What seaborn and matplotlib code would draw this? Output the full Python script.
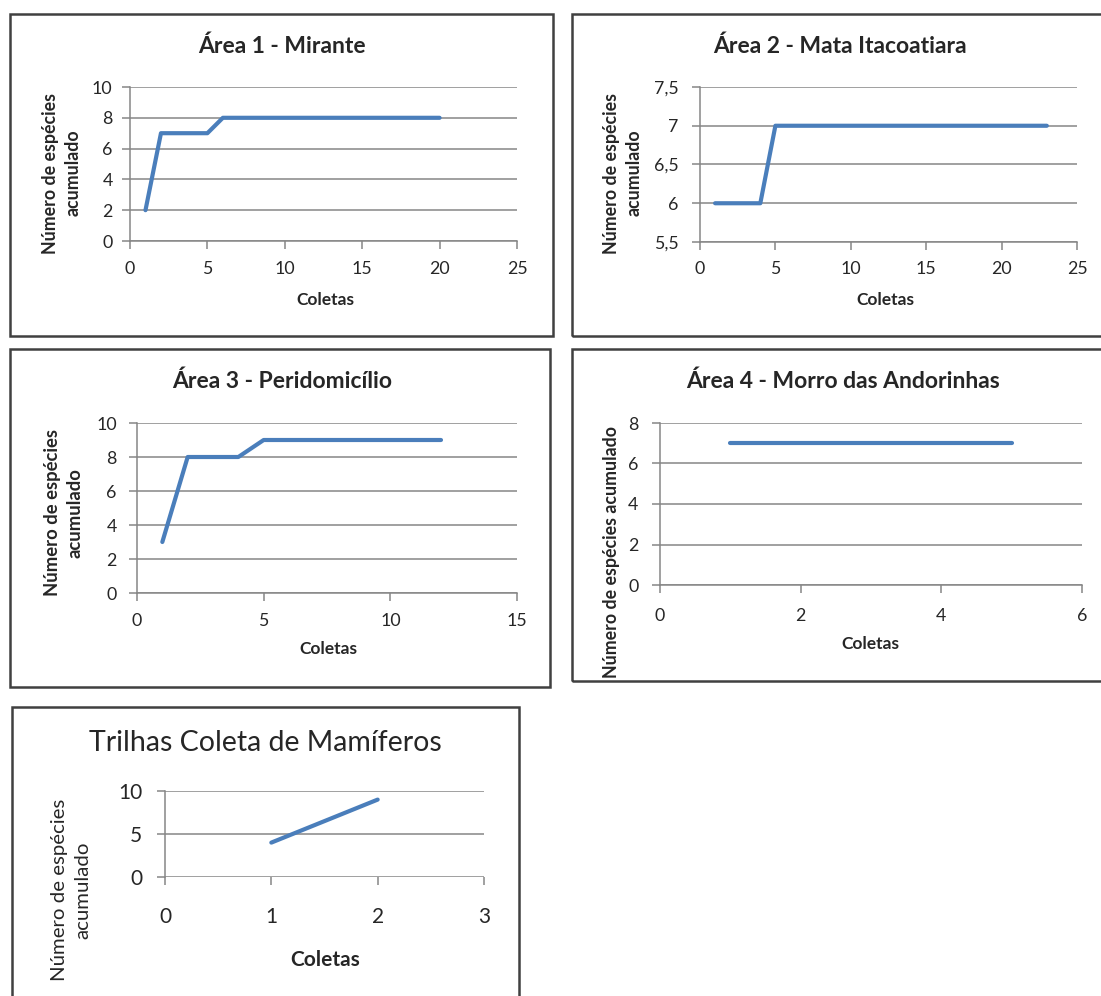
import numpy as np
import pandas as pd
import matplotlib
matplotlib.use("Agg")
import matplotlib.pyplot as plt
import matplotlib.ticker as mticker
from matplotlib.patches import Rectangle
import seaborn as sns

# Dados (curvas de acumulação de espécies)
area1_coletas = [1, 2, 3, 4, 5, 6, 7, 8, 9, 10, 11, 12, 13, 14, 15, 16, 17, 18, 19, 20]
area1_especies = [2, 7, 7, 7, 7, 8, 8, 8, 8, 8, 8, 8, 8, 8, 8, 8, 8, 8, 8, 8]

area2_coletas = [1, 2, 3, 4, 5, 6, 7, 8, 9, 10, 11, 12, 13, 14, 15, 16, 17, 18, 19, 20, 21, 22, 23]
area2_especies = [6, 6, 6, 6, 7, 7, 7, 7, 7, 7, 7, 7, 7, 7, 7, 7, 7, 7, 7, 7, 7, 7, 7]

area3_coletas = [1, 2, 3, 4, 5, 6, 7, 8, 9, 10, 11, 12]
area3_especies = [3, 8, 8, 8, 9, 9, 9, 9, 9, 9, 9, 9]

area4_coletas = [1, 2, 3, 4, 5]
area4_especies = [7, 7, 7, 7, 7]

trilhas_coletas = [1, 2]
trilhas_especies = [4, 9]

titulos = ["Área 1 - Mirante", "Área 2 - Mata Itacoatiara", "Área 3 - Peridomicílio",
           "Área 4 - Morro das Andorinhas", "Trilhas Coleta de Mamíferos"]

sns.set_theme(style="white")
plt.rcParams['font.family'] = ['Lato', 'DejaVu Sans']

W, H = 1101, 996
fig = plt.figure(figsize=(W / 100, H / 100), dpi=100)
fig.patch.set_facecolor("white")

LINHA = "#4A7EBB"
GRADE = "#868686"
BORDA = "#404040"


def fx(x):
    return x / W


def fy(y):
    return 1 - y / H


def painel(borda, eixo, x, y, xlim, xstep, ylim, ystep, titulo, tpos, tsize, tbold,
           cpos, csize, ylab, ypos, ysize, ybold, ticksize, xpad, ypad, decimal=False,
           eixo_x=True, espaco=1.4):
    # moldura do gráfico
    bl, bt, br, bb = borda
    fig.patches.append(Rectangle((fx(bl), fy(bb)), fx(br - bl), (bb - bt) / H,
                                 transform=fig.transFigure, fill=False,
                                 edgecolor=BORDA, linewidth=1.8))
    l, t, r, b = eixo
    ax = fig.add_axes([fx(l), fy(b), fx(r - l), (b - t) / H])
    df = pd.DataFrame({"Coletas": x, "Especies": y})
    sns.lineplot(data=df, x="Coletas", y="Especies", ax=ax, color=LINHA,
                 linewidth=3, solid_capstyle="round", solid_joinstyle="round")
    ax.set_xlim(*xlim)
    ax.set_ylim(*ylim)
    ax.set_xticks(np.arange(xlim[0], xlim[1] + 0.001, xstep))
    ax.set_yticks(np.arange(ylim[0], ylim[1] + 0.001, ystep))
    if decimal:
        ax.yaxis.set_major_formatter(mticker.FuncFormatter(
            lambda v, p: (f"{v:g}").replace(".", ",")))
    ax.grid(axis="y", color=GRADE, linewidth=1.1)
    ax.set_axisbelow(True)
    for s in ["top", "right"]:
        ax.spines[s].set_visible(False)
    ax.spines["left"].set_color(GRADE)
    ax.spines["left"].set_linewidth(1.1)
    ax.spines["bottom"].set_color(GRADE)
    ax.spines["bottom"].set_linewidth(1.1)
    ax.spines["bottom"].set_visible(eixo_x)
    ax.tick_params(axis="both", which="major", direction="out", length=5.5,
                   width=1.1, color=GRADE, labelsize=ticksize, left=True, bottom=True)
    ax.tick_params(axis="x", pad=xpad)
    ax.tick_params(axis="y", pad=ypad)
    ax.set_xlabel("")
    ax.set_ylabel("")
    ax.set_facecolor("white")

    fig.text(fx(tpos[0]), fy(tpos[1]), titulo, ha="center", va="center",
             fontsize=tsize, fontweight="bold" if tbold else "normal")
    fig.text(fx(cpos[0]), fy(cpos[1]), "Coletas", ha="center", va="center",
             fontsize=csize, fontweight="bold")
    fig.text(fx(ypos[0]), fy(ypos[1]), ylab, ha="center", va="center", rotation=90,
             fontsize=ysize, fontweight="bold" if ybold else "normal",
             multialignment="center", linespacing=espaco)
    return ax


ylab2 = "Número de espécies\nacumulado"

painel((10, 14, 553, 336), (130, 87, 517, 241), area1_coletas, area1_especies,
       (0, 25), 5, (0, 10), 2, titulos[0], (282, 46), 16.5, True,
       (325, 300), 12.5, ylab2, (62, 173), 12.8, True, 12.8, 9, 7)

painel((572, 14, 1115, 336), (700, 87, 1077, 242), area2_coletas, area2_especies,
       (0, 25), 5, (5.5, 7.5), 0.5, titulos[1], (840, 46), 16.5, True,
       (885, 300), 12.5, ylab2, (623, 173), 12.8, True, 12.8, 8, 10, decimal=True)

painel((10, 349, 550, 687), (137, 423, 517, 593), area3_coletas, area3_especies,
       (0, 15), 5, (0, 10), 2, titulos[2], (282, 381), 16.5, True,
       (328, 649), 12.5, ylab2, (64, 513), 13.3, True, 12.8, 9, 9)

painel((572, 349, 1115, 681), (660, 423, 1082, 585), area4_coletas, area4_especies,
       (0, 6), 2, (0, 8), 2, titulos[3], (843, 381), 16.5, True,
       (870, 644), 12.5, "Número de espécies acumulado", (611, 552), 12.8, True, 12.8, 11, 10)

painel((12, 707, 519, 1010), (165, 791, 484, 877), trilhas_coletas, trilhas_especies,
       (0, 3), 1, (0, 10), 5, titulos[4], (265, 743), 20.5, False,
       (325, 960), 15, ylab2, (71, 890), 14.7, False, 15, 16, 11, eixo_x=False,
       espaco=1.5)

fig.savefig("out.png", dpi=100, facecolor="white")
